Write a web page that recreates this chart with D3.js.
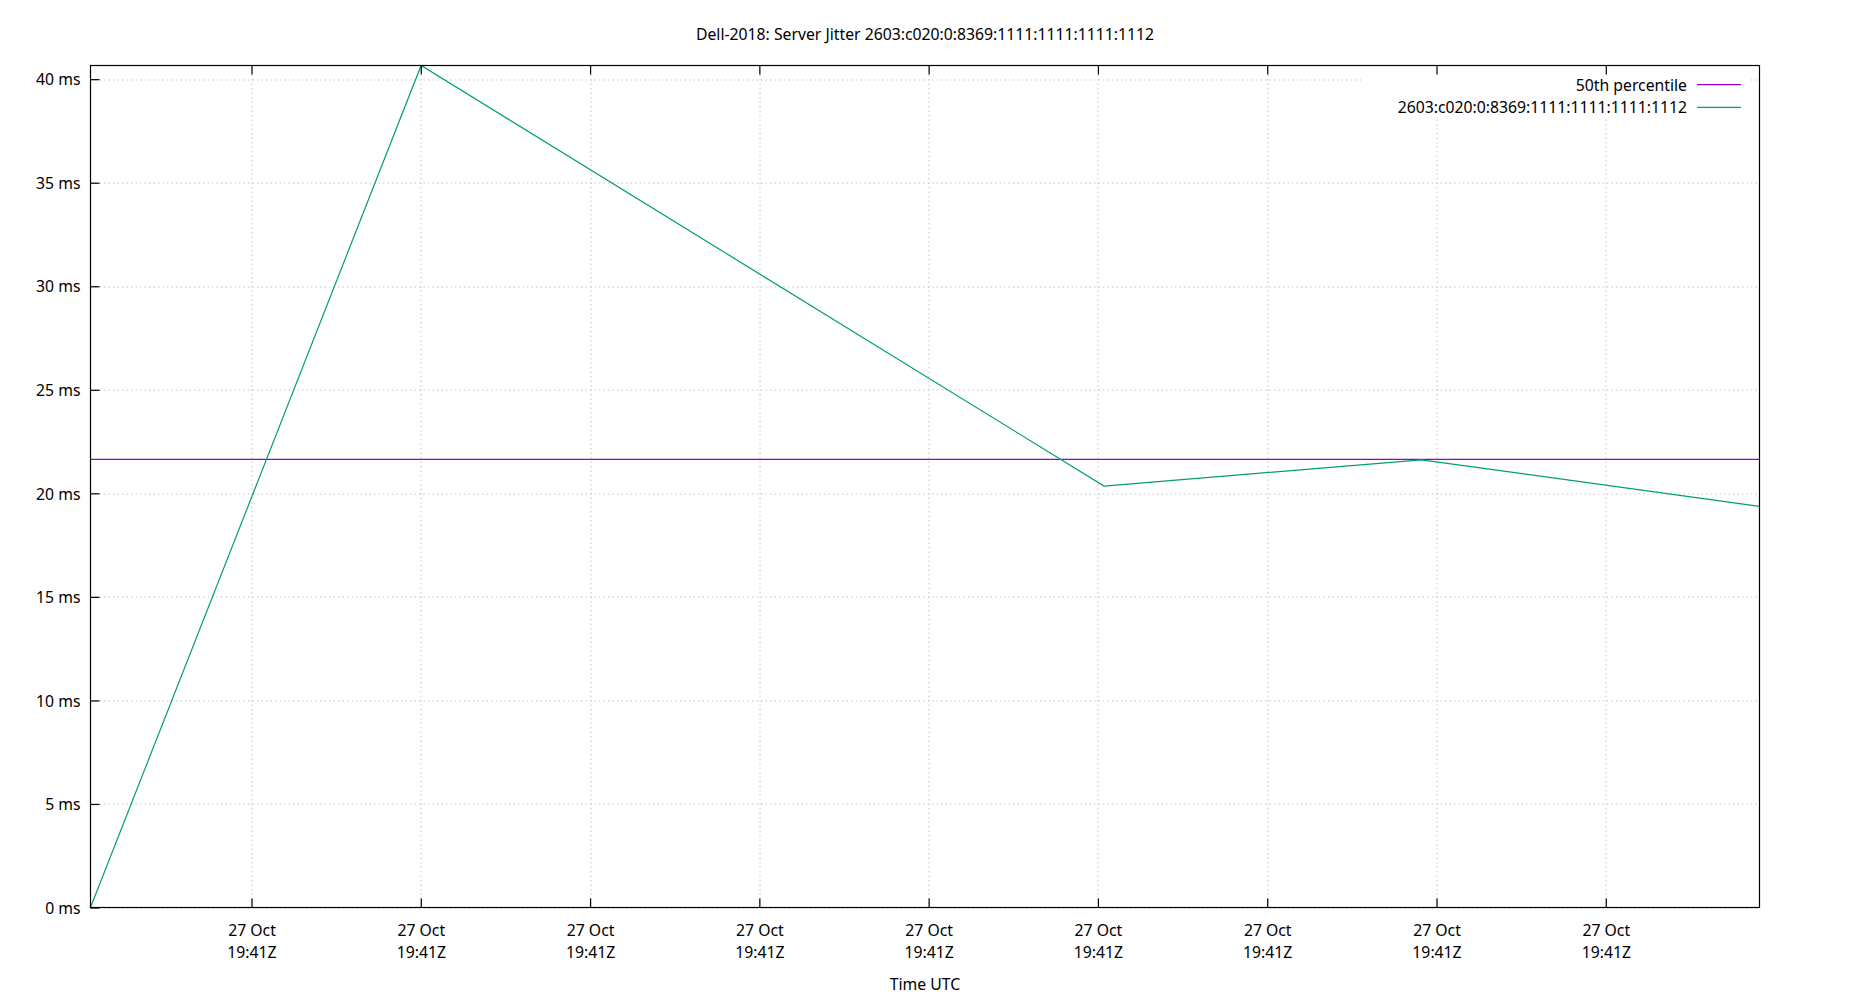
<!DOCTYPE html>
<html>
<head>
<meta charset="utf-8">
<script src="https://cdn.jsdelivr.net/npm/d3@7"></script>
<style>
  html, body { margin: 0; padding: 0; background: #fff; }
  svg { display: block; font-family: "Noto Sans", "Open Sans", sans-serif; }
</style>
</head>
<body>
<svg id="chart" width="1850" height="1000"></svg>
<script>
// ---- data ----
const titleText = "Dell-2018: Server Jitter 2603:c020:0:8369:1111:1111:1111:1112";
const seriesName = "2603:c020:0:8369:1111:1111:1111:1112";
const medianName = "50th percentile";
const times = [
  "2018-10-27T19:41:00.245Z",
  "2018-10-27T19:41:10.010Z",
  "2018-10-27T19:41:30.180Z",
  "2018-10-27T19:41:39.550Z",
  "2018-10-27T19:41:49.540Z"
];
const jitterMs = [0, 40.66, 20.35, 21.62, 19.37];
const medianMs = 21.64;
const xTickTimes = [
  "2018-10-27T19:41:05Z", "2018-10-27T19:41:10Z", "2018-10-27T19:41:15Z",
  "2018-10-27T19:41:20Z", "2018-10-27T19:41:25Z", "2018-10-27T19:41:30Z",
  "2018-10-27T19:41:35Z", "2018-10-27T19:41:40Z", "2018-10-27T19:41:45Z"
];
const yTickValues = [0, 5, 10, 15, 20, 25, 30, 35, 40];
const xAxisLabel = "Time UTC";

// ---- layout ----
const svg = d3.select("#chart");
const mLeft = 90.5, mRight = 1759.5, mTop = 65.5, mBottom = 907.5;
const W = mRight - mLeft, H = mBottom - mTop;
const fontSize = 15.75;

const points = times.map((t, i) => ({ t: new Date(t), v: jitterMs[i] }));
const x = d3.scaleUtc()
  .domain(d3.extent(points, d => d.t))
  .range([0, W]);
const y = d3.scaleLinear()
  .domain([0, d3.max(jitterMs)])
  .range([H, 0]);

const g = svg.append("g").attr("transform", `translate(${mLeft},${mTop})`);

// grid
const gridColor = "#c4c4c4";
const xTicks = xTickTimes.map(t => new Date(t));
g.append("g").attr("class", "xgrid")
  .selectAll("line").data(xTicks).join("line")
  .attr("x1", d => Math.round(x(d)) + 0.5).attr("x2", d => Math.round(x(d)) + 0.5)
  .attr("y1", 0).attr("y2", H)
  .attr("stroke", gridColor).attr("stroke-width", 1).attr("stroke-dasharray", "1.5,3");
g.append("g").attr("class", "ygrid")
  .selectAll("line").data(yTickValues).join("line")
  .attr("x1", 0).attr("x2", W)
  .attr("y1", d => Math.round(y(d)) + 0.5).attr("y2", d => Math.round(y(d)) + 0.5)
  .attr("stroke", gridColor).attr("stroke-width", 1).attr("stroke-dasharray", "1.5,3");

// opaque legend background
g.append("rect")
  .attr("x", 1363 - mLeft).attr("y", 0)
  .attr("width", 1750 - 1363).attr("height", 117 - mTop)
  .attr("fill", "#fff");

// median line
g.append("line")
  .attr("x1", 0).attr("x2", W)
  .attr("y1", y(medianMs)).attr("y2", y(medianMs))
  .attr("stroke", "#9400d3").attr("stroke-width", 1.2);

// series line
const line = d3.line().x(d => x(d.t)).y(d => y(d.v));
g.append("path")
  .datum(points)
  .attr("d", line)
  .attr("fill", "none")
  .attr("stroke", "#009e73")
  .attr("stroke-width", 1.2)
  .attr("stroke-linejoin", "miter");

// axes
const fmtDay = d3.utcFormat("%d %b");
const fmtTime = d3.utcFormat("%H:%MZ");

const xAxis = g.append("g")
  .attr("transform", `translate(0,${H})`)
  .call(d3.axisBottom(x).tickValues(xTicks).tickSize(-9).tickPadding(0).tickFormat(() => ""));
xAxis.select(".domain").remove();
xAxis.selectAll(".tick line").attr("stroke", "#000").attr("stroke-width", 1.2);
xAxis.selectAll(".tick text").each(function(d) {
  const t = d3.select(this);
  t.text(null).attr("y", 0).attr("dy", null)
    .attr("font-size", fontSize).attr("font-family", "Noto Sans").attr("fill", "#000");
  t.append("tspan").attr("x", 0).attr("y", 28.5).text(fmtDay(d));
  t.append("tspan").attr("x", 0).attr("y", 50).text(fmtTime(d));
});

const xAxisTop = g.append("g")
  .call(d3.axisTop(x).tickValues(xTicks).tickSize(-9).tickFormat(() => ""));
xAxisTop.select(".domain").remove();
xAxisTop.selectAll(".tick line").attr("stroke", "#000").attr("stroke-width", 1.2);

const yAxis = g.append("g")
  .call(d3.axisLeft(y).tickValues(yTickValues).tickSize(-9).tickPadding(10).tickFormat(d => `${d} ms`));
yAxis.select(".domain").remove();
yAxis.selectAll(".tick line").attr("stroke", "#000").attr("stroke-width", 1.2);
yAxis.selectAll(".tick text")
  .attr("font-size", fontSize).attr("font-family", "Noto Sans").attr("fill", "#000")
  .attr("dy", "0.36em");

// frame
g.append("rect")
  .attr("x", 0).attr("y", 0).attr("width", W).attr("height", H)
  .attr("fill", "none").attr("stroke", "#000").attr("stroke-width", 1.2);

// title
svg.append("text")
  .attr("x", 925).attr("y", 40)
  .attr("text-anchor", "middle")
  .attr("font-size", fontSize).attr("fill", "#000")
  .text(titleText);

// x axis label
svg.append("text")
  .attr("x", 925).attr("y", 990)
  .attr("text-anchor", "middle")
  .attr("font-size", fontSize).attr("fill", "#000")
  .text(xAxisLabel);

// legend
const legendItems = [
  { name: medianName, color: "#9400d3", y: 84.7 },
  { name: seriesName, color: "#009e73", y: 107.3 }
];
const lg = svg.append("g");
legendItems.forEach(it => {
  lg.append("text")
    .attr("x", 1687).attr("y", it.y + 6)
    .attr("text-anchor", "end")
    .attr("font-size", fontSize).attr("fill", "#000")
    .text(it.name);
  lg.append("line")
    .attr("x1", 1697).attr("x2", 1741)
    .attr("y1", it.y).attr("y2", it.y)
    .attr("stroke", it.color).attr("stroke-width", 1.2);
});
</script>
</body>
</html>
